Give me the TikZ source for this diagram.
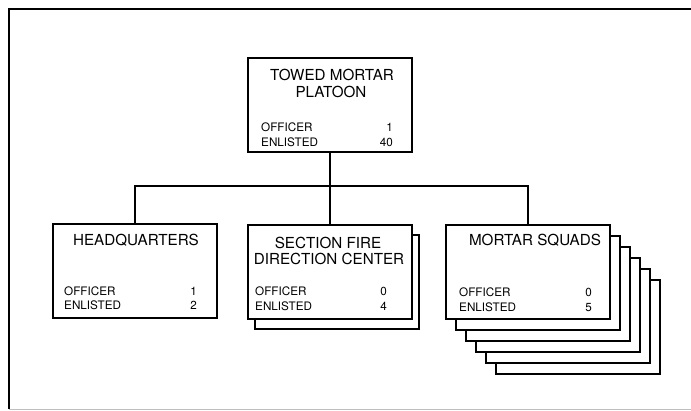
\documentclass[tikz,border=0pt]{standalone}
\usepackage{fontspec}
\setmainfont{TeX Gyre Heros}
\usepackage{tikz}
\usetikzlibrary{positioning,calc}

\begin{document}
\begin{tikzpicture}[x=1pt,y=-1pt,
		unitbox/.style={draw,line width=1.8pt,fill=white,minimum width=164pt,minimum height=94pt,inner sep=0pt,anchor=north west},
		unittitle/.style={font=\fontsize{15.2}{16}\selectfont,inner sep=0pt,anchor=base},
		rowname/.style={font=\fontsize{11.7}{12}\selectfont,inner sep=0pt,anchor=base west},
		rowcount/.style={font=\fontsize{11.7}{12}\selectfont,inner sep=0pt,anchor=base east},
		link/.style={line width=2.6pt}]
	\useasboundingbox (0,0) rectangle (691,410);
	
	% ---------- outer frame ----------
	\draw[line width=1.4pt] (691,9) -- (9,9) -- (9,409);
	\draw[black!25,line width=0.8pt] (9,409) -- (691,409);
	
	% ---------- top: platoon ----------
	\begin{scope}[shift={(247,57)}]
		\node[unitbox] (platoon) at (0,0) {};
		\node[unittitle] (platoonA) at (85,23) {TOWED MORTAR};
		\node[unittitle] (platoonB) at (84,40) {PLATOON};
		\node[rowname] (platoonoff) at (14,74) {OFFICER};
		\node[rowname] (platoonenl) at (14,89) {ENLISTED};
		\node[rowcount] (platoonoffn) at (146,74) {1};
		\node[rowcount] (platoonenln) at (146,89) {40};
	\end{scope}
	
	% ---------- row 2: headquarters ----------
	\begin{scope}[shift={(52,223)}]
		\node[unitbox] (hq) at (0,0) {};
		\node[unittitle] (hqA) at (84,22) {HEADQUARTERS};
		\node[rowname] (hqoff) at (12,72) {OFFICER};
		\node[rowname] (hqenl) at (12,86) {ENLISTED};
		\node[rowcount] (hqoffn) at (145,72) {1};
		\node[rowcount] (hqenln) at (145,86) {2};
	\end{scope}
	
	% ---------- row 2: section fire direction center ----------
	\begin{scope}[shift={(247,224)}]
		\node[unitbox] (fdcback) at (7,10) {};
		\node[unitbox] (fdc) at (0,0) {};
		\node[unittitle] (fdcA) at (81,24) {SECTION FIRE};
		\node[unittitle] (fdcB) at (82,40) {DIRECTION CENTER};
		\node[rowname] (fdcoff) at (8,71) {OFFICER};
		\node[rowname] (fdcenl) at (8,86) {ENLISTED};
		\node[rowcount] (fdcoffn) at (140,71) {0};
		\node[rowcount] (fdcenln) at (140,86) {4};
	\end{scope}
	
	% ---------- row 2: mortar squads (stacked) ----------
	\begin{scope}[shift={(445,224)}]
		\foreach \k in {5,4,...,1}
			\node[unitbox] (squads\k) at (10*\k,11*\k) {};
		\node[unitbox] (squads) at (0,0) {};
		\node[unittitle] (squadsA) at (90,21) {MORTAR SQUADS};
		\node[rowname] (squadsoff) at (14,72) {OFFICER};
		\node[rowname] (squadsenl) at (14,87) {ENLISTED};
		\node[rowcount] (squadsoffn) at (147,72) {0};
		\node[rowcount] (squadsenln) at (147,87) {5};
	\end{scope}
	
	% ---------- connectors ----------
	\coordinate (bus) at (0,186);
	\draw[link] (platoon.south) -- (platoon.south |- bus);
	\draw[link] (hq.north) -- (hq.north |- bus) -- (squads.north |- bus) -- (squads.north);
	\draw[link] (fdc.north) -- (fdc.north |- bus);
	
\end{tikzpicture}
\end{document}
